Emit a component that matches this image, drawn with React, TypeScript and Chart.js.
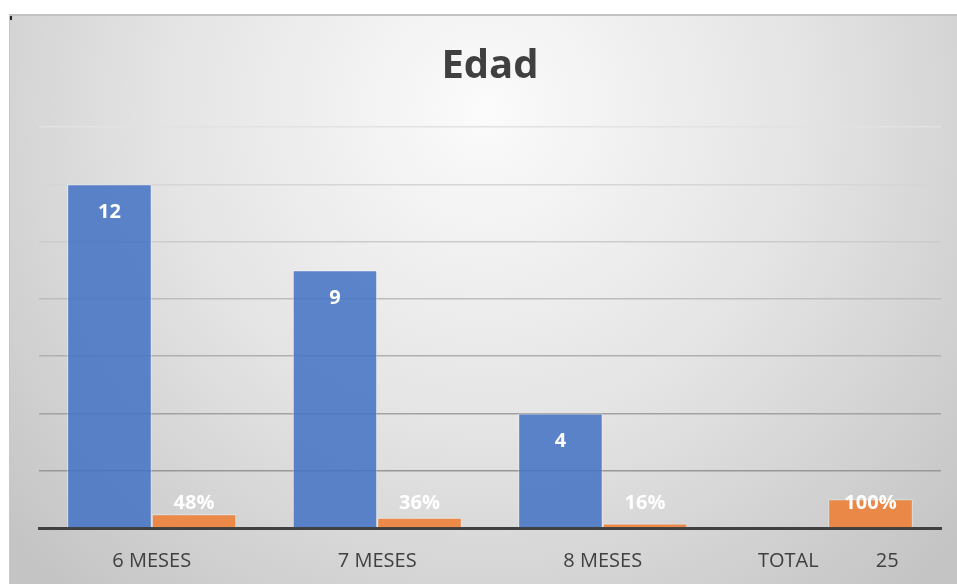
import React, { useEffect, useRef } from "react";
import { Chart, registerables } from "chart.js";

Chart.register(...registerables);

const TITLE = "Edad";
const categories = ["6 MESES", "7 MESES", "8 MESES", "TOTAL"];
const totalCount = 25;
const counts = [12, 9, 4, null];
const percents = [0.48, 0.36, 0.16, 1.0];
const yTicks = [0, 2, 4, 6, 8, 10, 12, 14];

const FONT = "'Open Sans', 'Noto Sans', sans-serif";

const gridColors: Record<number, string> = {
  14: "#e2e2e2",
  12: "#d6d6d6",
  10: "#cccccc",
  8: "#bdbdbd",
  6: "#b0b0b0",
  4: "#a2a2a2",
  2: "#979797",
  0: "rgba(0,0,0,0)",
};

const bgPlugin = {
  id: "bgPlugin",
  beforeDraw(chart: any) {
    const { ctx, width, height } = chart;
    ctx.save();
    ctx.fillStyle = "#ffffff";
    ctx.fillRect(0, 0, width, height);
    const x0 = 9, y0 = 14;
    const g = ctx.createRadialGradient(485, 110, 0, 485, 110, 640);
    g.addColorStop(0, "#fbfbfb");
    g.addColorStop(0.5, "#e4e4e4");
    g.addColorStop(1, "#c4c4c4");
    ctx.fillStyle = g;
    ctx.fillRect(x0, y0, width - x0, height - y0);
    ctx.fillStyle = "#c2c2c2";
    ctx.fillRect(x0, y0, width - x0, 2);
    ctx.fillStyle = "#c8c8c8";
    ctx.fillRect(x0, y0, 1, height - y0);
    ctx.fillStyle = "#222";
    ctx.fillRect(10, 16, 2, 4);
    // title
    ctx.fillStyle = "#404040";
    ctx.font = `bold 40px ${FONT}`;
    ctx.textAlign = "center";
    ctx.textBaseline = "middle";
    ctx.fillText(TITLE, 490, 67);
    ctx.restore();
  },
};

const labelPlugin = {
  id: "labelPlugin",
  afterDatasetsDraw(chart: any) {
    const { ctx } = chart;
    ctx.save();
    ctx.fillStyle = "#ffffff";
    ctx.font = `bold 20px ${FONT}`;
    ctx.textAlign = "center";
    ctx.textBaseline = "middle";
    chart.data.datasets.forEach((ds: any, di: number) => {
      const meta = chart.getDatasetMeta(di);
      meta.data.forEach((bar: any, i: number) => {
        const v = ds.data[i];
        if (v === null || v === undefined) return;
        const { x, y, base } = bar.getProps(["x", "y", "base"], true);
        const ly = Math.min(y + 28, base - 24);
        const txt = di === 0 ? String(v) : `${Math.round(v * 100)}%`;
        ctx.fillText(txt, x, ly);
      });
    });
    ctx.restore();
  },
};

export default function App() {
  const ref = useRef<HTMLCanvasElement | null>(null);
  useEffect(() => {
    if (!ref.current) return;
    const labels = categories.map((c, i) =>
      i === categories.length - 1 ? `${c}           ${totalCount}` : c
    );
    const chart = new Chart(ref.current, {
      type: "bar",
      data: {
        labels,
        datasets: [
          {
            label: "Cantidad",
            data: counts,
            backgroundColor: "rgba(68,114,196,0.86)",
            borderColor: "rgba(255,255,255,0.45)",
            borderWidth: 1,
            categoryPercentage: 0.75,
            barPercentage: 1.0,
          },
          {
            label: "Porcentaje",
            data: percents,
            backgroundColor: "rgba(237,125,49,0.86)",
            borderColor: "rgba(255,255,255,0.45)",
            borderWidth: 1,
            categoryPercentage: 0.75,
            barPercentage: 1.0,
          },
        ],
      },
      options: {
        animation: false,
        responsive: false,
        maintainAspectRatio: false,
        layout: { padding: { left: 39, right: 16, top: 127, bottom: 0 } },
        plugins: {
          legend: { display: false },
          title: { display: false },
          tooltip: { enabled: false },
        },
        scales: {
          x: {
            grid: { display: false, drawTicks: false },
            border: { display: true, color: "#404040", width: 3 },
            ticks: {
              color: "#404040",
              font: { family: FONT, size: 20 },
              padding: 21,
              maxRotation: 0,
              autoSkip: false,
            },
            afterFit(scale: any) {
              scale.height = 56;
            },
          },
          y: {
            min: 0,
            max: 14,
            afterBuildTicks(scale: any) {
              scale.ticks = yTicks.map((v) => ({ value: v }));
            },
            ticks: { display: false },
            grid: {
              drawTicks: false,
              lineWidth: 1.5,
              color: (c: any) => gridColors[c.tick?.value] ?? "#bbbbbb",
            },
            border: { display: false },
            afterFit(scale: any) {
              scale.width = 0;
            },
          },
        },
      },
      plugins: [bgPlugin, labelPlugin],
    });
    return () => chart.destroy();
  }, []);
  return (
    <div style={{ position: "fixed", left: 0, top: 0, width: 957, height: 584 }}>
      <canvas ref={ref} width={957} height={584} style={{ width: 957, height: 584, display: "block" }} />
    </div>
  );
}
